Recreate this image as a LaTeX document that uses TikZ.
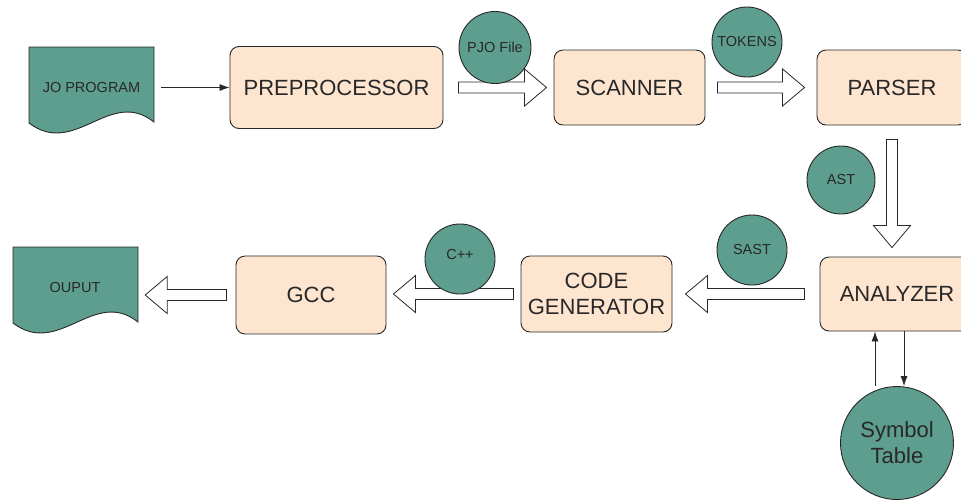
\documentclass[tikz,border=0pt]{standalone}
\usepackage{fontspec}
\setmainfont{Liberation Sans}
\usetikzlibrary{arrows.meta,calc,positioning}
\definecolor{tealdoc}{RGB}{94,158,143}
\definecolor{peach}{RGB}{253,229,207}
\definecolor{inkgray}{RGB}{40,40,40}
\tikzset{
	stage/.style={draw=inkgray,fill=peach,rounded corners=9pt,line width=0.9pt,text=inkgray,font=\fontsize{22}{26}\selectfont,align=center,inner sep=0pt},
	tag/.style={circle,draw=inkgray,fill=tealdoc,line width=0.9pt,text=inkgray,font=\fontsize{14.5}{16}\selectfont,inner sep=0pt},
	doc/.style={draw=inkgray,fill=tealdoc,line width=0.9pt},
	doctext/.style={text=inkgray,font=\fontsize{14.5}{16}\selectfont,inner sep=0pt},
	hollow/.style={draw=inkgray,fill=white,line width=0.8pt,line join=miter},
	thin arrow/.style={-{Latex[length=10pt,width=7pt]},line width=0.8pt,draw=inkgray}
}
\newcommand\hollowarrow[2]{%
	\path ($(#2)!22pt!(#1)$) coordinate (hb);
	\draw[hollow] ($(#1)!5.5pt!90:(#2)$) -- ($(hb)!5.5pt!90:(#2)$) -- ($(hb)!18.5pt!90:(#2)$) -- (#2)
		-- ($(hb)!18.5pt!-90:(#2)$) -- ($(hb)!5.5pt!-90:(#2)$) -- ($(#1)!5.5pt!-90:(#2)$) -- cycle;}

\begin{document}
\begin{tikzpicture}[x=1pt,y=-1pt]
	\useasboundingbox (0,0) rectangle (961,499);
	
	% documents
	\draw[doc] (29,47) -- (154,47) -- (154,122) .. controls (110,87) and (75,158) .. (29,123) -- cycle;
	\node[doctext,minimum width=125] (jo) at (91.5,87.5) {JO PROGRAM};
	
	\draw[doc,shift={(-16,200)}] (29,47) -- (154,47) -- (154,122) .. controls (110,87) and (75,158) .. (29,123) -- cycle;
	\node[doctext,minimum width=124] (out) at (75,288) {OUPUT};
	
	% stages
	\node[stage,minimum width=213,minimum height=82] (pre) at (336.5,87.5) {PREPROCESSOR};
	\node[stage,minimum width=151,minimum height=75] (scan) at (629.5,87.5) {SCANNER};
	\node[stage,minimum width=150,minimum height=75] (parse) at (892,87.5) {PARSER};
	\node[stage,minimum width=154,minimum height=74] (ana) at (897,294) {ANALYZER};
	\node[stage,minimum width=151,minimum height=76] (codegen) at (596.5,294) {CODE\\GENERATOR};
	\node[stage,minimum width=150,minimum height=78] (gcc) at (311,295) {GCC};
	
	% connectors
	\draw[thin arrow] ([xshift=7]jo.east) -- (pre.west);
	
	\path (pre.east) ++(15,0) coordinate (s1);
	\path (scan.west) ++(-7,0) coordinate (t1);
	\hollowarrow{s1}{t1}
	
	\path (scan.east) ++(12,0) coordinate (s2);
	\path (parse.west) ++(-12,0) coordinate (t2);
	\hollowarrow{s2}{t2}
	
	\path (parse.south) ++(0,14) coordinate (s3);
	\path (ana.north -| parse.south) ++(0,-9) coordinate (t3);
	\hollowarrow{s3}{t3}
	
	\path (ana.west) ++(-15,0) coordinate (s4);
	\path (codegen.east) ++(13,0) coordinate (t4);
	\hollowarrow{s4}{t4}
	
	\path (codegen.west) ++(-7,0) coordinate (s5);
	\path (codegen.west -| gcc.east) ++(7,0) coordinate (t5);
	\hollowarrow{s5}{t5}
	
	\path (gcc.west) ++(-9,0) coordinate (s6);
	\path (gcc.west -| out.east) ++(8,0) coordinate (t6);
	\hollowarrow{s6}{t6}
	
	% data
	\node[tag,minimum size=72] (pjo) at (495,47.5) {PJO File};
	\node[tag,minimum size=70] (tok) at (747,42) {TOKENS};
	\node[tag,minimum size=68] (ast) at (841,180) {AST};
	\node[tag,minimum size=70] (sast) at (752,250) {SAST};
	\node[tag,minimum size=70] (cpp) at (460,259) {\raisebox{9pt}{C++}};
	\node[tag,minimum size=113,font=\fontsize{22}{26}\selectfont,align=center] (sym) at (897,443) {Symbol\\Table};
	
	\draw[thin arrow] ([xshift=-22]sym.north) -- ([xshift=-22]ana.south);
	\draw[thin arrow] ([xshift=7]ana.south) -- ([xshift=7]sym.north);
	
\end{tikzpicture}
\end{document}
